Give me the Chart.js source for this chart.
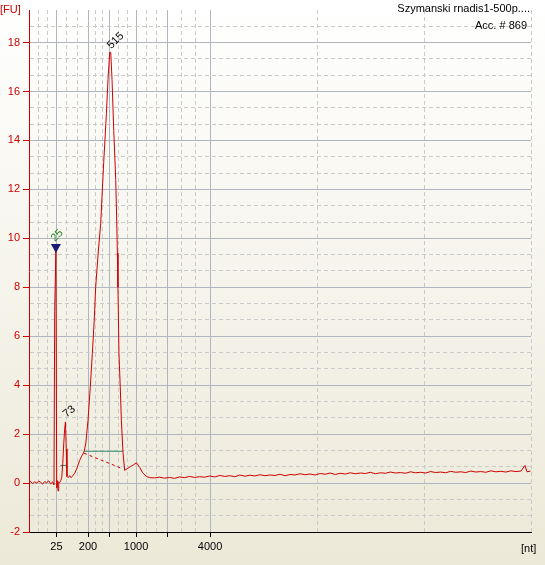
<!DOCTYPE html>
<html>
<head>
<meta charset="utf-8">
<script src="https://cdn.jsdelivr.net/npm/chart.js@4.4.1/dist/chart.umd.min.js"></script>
<style>
  html, body { margin: 0; padding: 0; background: #ECE9D8; }
  canvas { display: block; }
</style>
</head>
<body>
<canvas id="electropherogram" width="545" height="565"></canvas>
<script>
// migration time [s] vs fluorescence [FU]
const traceTime = [
  19.00, 19.17, 19.37, 19.57, 19.77, 19.97, 20.17, 20.36, 20.56, 20.76,
  20.96, 21.16, 21.36, 21.49, 21.56, 21.68, 21.76, 21.82, 21.89, 21.96,
  22.06, 22.16, 22.26, 22.36, 22.46, 22.55, 22.63, 22.71, 22.78, 22.90,
  23.05, 23.20, 23.38, 23.55, 23.75, 24.05, 24.25, 24.48, 24.65, 24.88,
  25.10, 25.31, 25.49, 25.64, 25.89, 26.14, 26.44, 26.71, 26.87, 27.04,
  27.14, 27.27, 27.44, 27.64, 27.76, 27.80, 27.86, 27.96, 28.10, 28.20,
  28.36, 28.53, 28.83, 29.13, 29.43, 29.70, 30.03, 30.32, 30.69, 31.02,
  31.5, 32.0, 32.5, 33.0, 33.5, 34.0, 34.5, 35.0, 35.5, 36.0,
  36.5, 37.0, 37.5, 38.0, 38.5, 39.0, 39.5, 40.0, 40.5, 41.0,
  41.5, 42.0, 42.5, 43.0, 43.5, 44.0, 44.5, 45.0, 45.5, 46.0,
  46.5, 47.0, 47.5, 48.0, 48.5, 49.0, 49.5, 50.0, 50.5, 51.0,
  51.5, 52.0, 52.5, 53.0, 53.5, 54.0, 54.5, 55.0, 55.5, 56.0,
  56.5, 57.0, 57.5, 58.0, 58.5, 59.0, 59.5, 60.0, 60.5, 61.0,
  61.5, 62.0, 62.5, 63.0, 63.5, 64.0, 64.5, 65.0, 65.5, 66.0,
  66.5, 67.0, 67.5, 68.0, 68.4, 68.6, 68.95
];
const traceFU = [
  0.02, 0.06, -0.02, 0.05, 0.00, 0.08, 0.03, -0.04, 0.06, 0.01,
  0.09, -0.03, 0.05, -0.08, 7.00, 9.60, -0.20, 0.10, -0.32, 0.05,
  0.02, 0.10, 0.22, 0.80, 1.60, 2.20, 2.50, 1.40, 0.27, 0.22,
  0.30, 0.22, 0.31, 0.40, 0.58, 0.93, 1.10, 1.27, 1.60, 2.57,
  3.90, 5.30, 6.60, 8.00, 9.40, 10.60, 13.10, 15.10, 16.50, 17.60,
  17.60, 16.50, 14.40, 12.40, 10.30, 9.40, 8.00, 5.30, 3.80, 2.57,
  1.25, 0.52, 0.60, 0.68, 0.75, 0.83, 0.64, 0.42, 0.27, 0.22,
  0.21, 0.24, 0.20, 0.23, 0.19, 0.25, 0.22, 0.27, 0.23, 0.26,
  0.24, 0.29, 0.25, 0.31, 0.27, 0.30, 0.26, 0.33, 0.28, 0.32,
  0.29, 0.34, 0.30, 0.33, 0.31, 0.36, 0.30, 0.35, 0.33, 0.38,
  0.34, 0.37, 0.33, 0.39, 0.36, 0.41, 0.35, 0.40, 0.37, 0.42,
  0.38, 0.41, 0.39, 0.44, 0.38, 0.42, 0.40, 0.45, 0.41, 0.43,
  0.40, 0.46, 0.42, 0.44, 0.41, 0.47, 0.43, 0.45, 0.42, 0.48,
  0.44, 0.46, 0.43, 0.49, 0.45, 0.47, 0.44, 0.50, 0.46, 0.48,
  0.45, 0.50, 0.47, 0.49, 0.72, 0.46, 0.49
];

// y axis: labelled every 2 FU
const yMajorTicks = [-2, 0, 2, 4, 6, 8, 10, 12, 14, 16, 18];
// x axis: ladder sizes [nt] at their migration times
const xTickTimes = [21.73, 24.88, 27.01, 29.66, 32.75, 37.03];
const xTickLabels = ['25', '200', '', '1000', '', '4000'];

// called peaks
const peakTimes = [21.68, 22.63, 27.09];
const peakFU = [9.6, 2.5, 17.6];
const peakLabels = ['25', '73', '515'];

// 515 nt peak: start/end and baseline; 73 nt peak width
const regionTimes = [24.48, 28.36];
const regionBaseline = [1.22, 0.58];
const regionLevel = [1.30, 1.30];
const smallTimes = [22.13, 22.78];
const smallLevel = [0.72, 0.72];

const RED = '#cc0000';
const GRID_SOLID = '#b0b6c0';
const GRID_DASH = '#cacaca';

function pts(xs, ys) {
  return xs.map((x, i) => ({ x: x, y: ys[i] }));
}

// tick lists with dashed thirds between the major ones
const yTicks = [], yMajor = [];
yMajorTicks.forEach((v, i) => {
  yTicks.push(v); yMajor.push(true);
  const next = i < yMajorTicks.length - 1 ? yMajorTicks[i + 1] : v + 2;
  yTicks.push(v + (next - v) / 3); yMajor.push(false);
  if (i < yMajorTicks.length - 1) { yTicks.push(v + 2 * (next - v) / 3); yMajor.push(false); }
});
const xTicks = [], xMajor = [], xLabel = [];
const xBounds = [19].concat(xTickTimes, [69]);
for (let i = 0; i < xBounds.length - 1; i++) {
  const a = xBounds[i], b = xBounds[i + 1];
  if (i > 0) { xTicks.push(a); xMajor.push(true); xLabel.push(xTickLabels[i - 1]); }
  xTicks.push(a + (b - a) / 3); xMajor.push(false); xLabel.push('');
  xTicks.push(a + 2 * (b - a) / 3); xMajor.push(false); xLabel.push('');
}
xTicks.push(69); xMajor.push(false); xLabel.push('');

const backdrop = {
  id: 'backdrop',
  beforeDraw(chart) {
    const { ctx, width, height } = chart;
    const g = ctx.createLinearGradient(0, 0, 0, height);
    g.addColorStop(0, '#ffffff');
    g.addColorStop(1, '#ece9d8');
    ctx.save();
    ctx.fillStyle = g;
    ctx.fillRect(0, 0, width, height);
    ctx.restore();
  }
};

function rotatedText(ctx, text, x, y, angle, color) {
  ctx.save();
  ctx.translate(x, y);
  ctx.rotate(angle * Math.PI / 180);
  ctx.fillStyle = color;
  ctx.textAlign = 'left';
  ctx.textBaseline = 'alphabetic';
  ctx.fillText(text, 0, 0);
  ctx.restore();
}

const annotations = {
  id: 'annotations',
  afterDraw(chart) {
    const { ctx } = chart;
    const xs = chart.scales.x, ys = chart.scales.y;
    ctx.save();
    ctx.font = '11px "Liberation Sans", Arial, sans-serif';

    // marker triangle on the lower marker
    const mx = xs.getPixelForValue(peakTimes[0]);
    const my = ys.getPixelForValue(peakFU[0]);
    ctx.fillStyle = '#1c1c74';
    ctx.beginPath();
    ctx.moveTo(mx - 5, my - 4);
    ctx.lineTo(mx + 5, my - 4);
    ctx.lineTo(mx, my + 5);
    ctx.closePath();
    ctx.fill();

    peakLabels.forEach((lab, i) => {
      const px = xs.getPixelForValue(peakTimes[i]);
      const py = ys.getPixelForValue(peakFU[i]);
      if (i === 0) rotatedText(ctx, lab, px - 1, py - 6, -45, '#1f8a1f');
      else if (i === 1) rotatedText(ctx, lab, px + 1, py - 4, -40, '#000000');
      else rotatedText(ctx, lab, px + 1, py - 3, -45, '#000000');
    });

    ctx.fillStyle = RED;
    ctx.textAlign = 'left';
    ctx.textBaseline = 'alphabetic';
    ctx.fillText('[FU]', 0, 13);

    ctx.fillStyle = '#000000';
    ctx.fillText('[nt]', 521, 552);

    ctx.textAlign = 'right';
    ctx.fillText('Szymanski rnadis1-500p....', 530, 12);
    ctx.fillText('Acc. # 869', 527, 29);
    ctx.restore();
  }
};

Chart.defaults.font.family = '"Liberation Sans", Arial, sans-serif';
Chart.defaults.font.size = 11;

new Chart(document.getElementById('electropherogram'), {
  type: 'line',
  data: {
    datasets: [
      {
        data: pts(traceTime, traceFU),
        borderColor: '#d00000',
        borderWidth: 1,
        pointRadius: 0,
        tension: 0
      },
      {
        data: pts(regionTimes, regionBaseline),
        borderColor: '#d00000',
        borderWidth: 1,
        borderDash: [3, 3],
        pointRadius: 0
      },
      {
        data: pts(regionTimes, regionLevel),
        borderColor: '#2d8a6a',
        borderWidth: 1,
        pointRadius: 0
      },
      {
        data: pts(smallTimes, smallLevel),
        borderColor: '#2d8a6a',
        borderWidth: 1,
        pointRadius: 0
      }
    ]
  },
  options: {
    responsive: false,
    animation: false,
    devicePixelRatio: 1,
    layout: { padding: { left: 0, right: 14, top: 10, bottom: 0 } },
    plugins: { legend: { display: false }, tooltip: { enabled: false } },
    scales: {
      x: {
        type: 'linear',
        min: 19,
        max: 69,
        afterBuildTicks: (s) => { s.ticks = xTicks.map(v => ({ value: v })); },
        afterFit: (s) => { s.height = 33; },
        ticks: {
          autoSkip: false,
          maxRotation: 0,
          minRotation: 0,
          padding: 3,
          color: '#000000',
          callback: (v, i) => xLabel[i]
        },
        grid: {
          color: (c) => (c.tick && xMajor[c.index]) ? GRID_SOLID : GRID_DASH,
          lineWidth: 1,
          tickLength: 5,
          tickColor: (c) => (c.tick && xMajor[c.index]) ? '#000000' : 'rgba(0,0,0,0)'
        },
        border: {
          color: '#000000',
          width: 1,
          dash: (c) => (c.tick && !xMajor[c.index]) ? [4, 3] : []
        }
      },
      y: {
        min: -2,
        max: 19.33,
        afterBuildTicks: (s) => { s.ticks = yTicks.map(v => ({ value: v })); },
        afterFit: (s) => { s.width = 29; },
        ticks: {
          autoSkip: false,
          padding: 3,
          color: RED,
          callback: (v, i) => yMajor[i] ? String(v) : ''
        },
        grid: {
          color: (c) => (c.tick && yMajor[c.index]) ? GRID_SOLID : GRID_DASH,
          lineWidth: 1,
          tickLength: 6,
          tickColor: (c) => (c.tick && yMajor[c.index]) ? RED : 'rgba(0,0,0,0)'
        },
        border: {
          color: RED,
          width: 1,
          dash: (c) => (c.tick && !yMajor[c.index]) ? [4, 3] : []
        }
      }
    }
  },
  plugins: [backdrop, annotations]
});
</script>
</body>
</html>
